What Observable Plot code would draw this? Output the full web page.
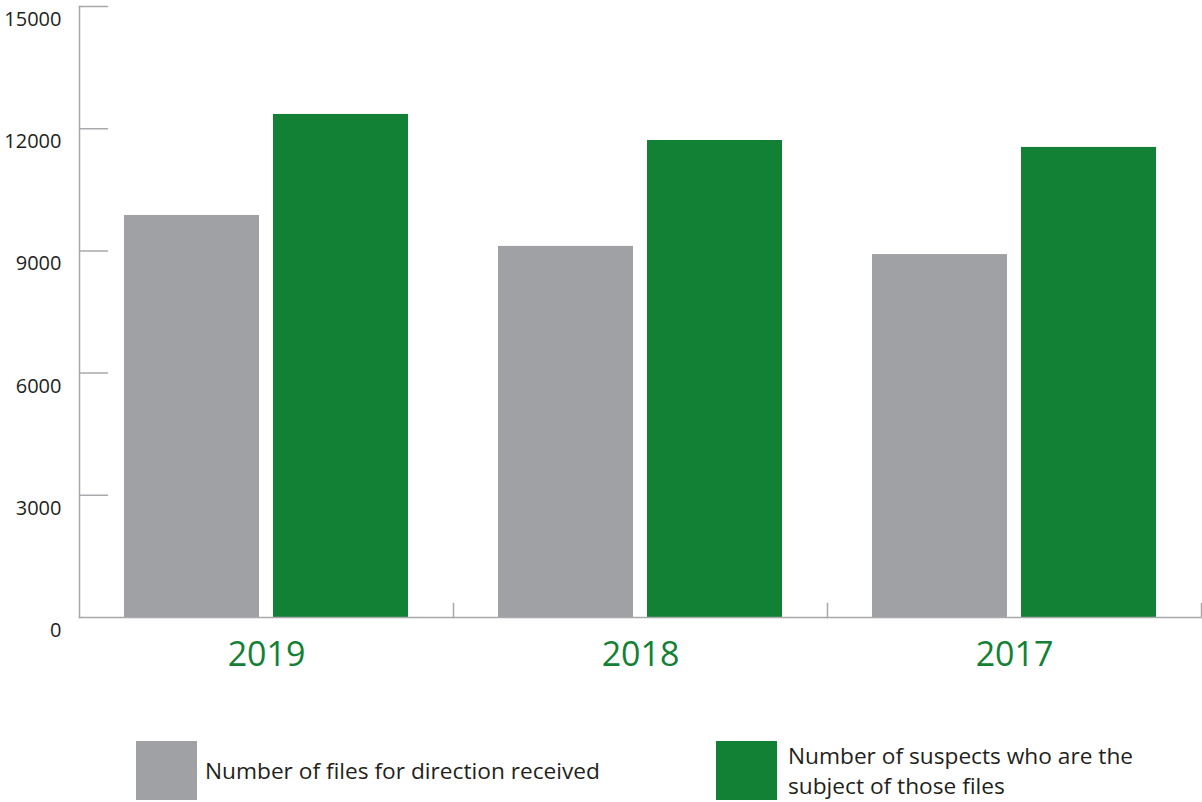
<!DOCTYPE html>
<html>
<head>
<meta charset="utf-8">
<script src="https://cdn.jsdelivr.net/npm/d3@7"></script>
<script src="https://cdn.jsdelivr.net/npm/@observablehq/plot@0.6"></script>
<style>
  html, body { margin: 0; padding: 0; background: #ffffff; }
  #wrap { width: 1202px; font-family: "Open Sans", sans-serif; color: #231f20; }
  #legend { position: relative; width: 1202px; height: 112px; }
  .sw { position: absolute; width: 61px; height: 59px; top: 51px; }
  .lt { position: absolute; font-size: 22.7px; line-height: 30px; color: #231f20; white-space: nowrap; }
</style>
</head>
<body>
<div id="wrap">
  <div id="chart"></div>
  <div id="legend">
    <div class="sw" style="left:136px; background:#a0a1a4;"></div>
    <div class="lt" style="left:205px; top:66px;">Number of files for direction received</div>
    <div class="sw" style="left:716px; background:#128135;"></div>
    <div class="lt" style="left:788px; top:51px;">Number of suspects who are the<br>subject of those files</div>
  </div>
</div>
<script>
const years = ["2019", "2018", "2017"];
const seriesKeys = ["Number of files for direction received", "Number of suspects who are the subject of those files"];
const filesReceived = [9870, 9110, 8910];
const suspects = [12350, 11710, 11540];
const yTicks = [0, 3000, 6000, 9000, 12000, 15000];

const gray = "#a0a1a4";
const green = "#128135";
const axisColor = "#a7a9ac";

const data = [];
years.forEach((y, i) => {
  data.push({year: y, series: seriesKeys[0], value: filesReceived[i]});
  data.push({year: y, series: seriesKeys[1], value: suspects[i]});
});

const tickShape = {
  draw(context, l) {
    context.moveTo(0, 0);
    context.lineTo(0, -l);
  }
};

const chart = Plot.plot({
  width: 1202,
  height: 690,
  marginLeft: 79,
  marginRight: 1,
  marginTop: 6,
  marginBottom: 73,
  style: {fontFamily: "Open Sans, sans-serif", background: "#ffffff"},
  fx: {domain: years, padding: 0, label: null, axis: null},
  x: {domain: seriesKeys, paddingInner: 0.094, paddingOuter: 0.295, axis: null},
  y: {domain: [0, 15000], axis: null},
  color: {domain: seriesKeys, range: [gray, green]},
  marks: [
    Plot.barY(data, {fx: "year", x: "series", y: "value", fill: "series"}),
    Plot.frame({anchor: "bottom", stroke: axisColor, strokeWidth: 1.5}),
    Plot.frame({anchor: "left", stroke: axisColor, strokeWidth: 1.5, facetAnchor: "left"}),
    Plot.vector(yTicks.filter(d => d > 0), {
      y: d => d, frameAnchor: "left", length: 28, rotate: 90, anchor: "start",
      shape: tickShape, stroke: axisColor, strokeWidth: 1.5, facetAnchor: "left"
    }),
    Plot.vector([0], {
      frameAnchor: "bottom-right", length: 14, rotate: 0, anchor: "start",
      shape: tickShape, stroke: axisColor, strokeWidth: 1.5
    }),
    Plot.axisY(yTicks, {
      tickSize: 0, tickPadding: 18, dy: 13, fontSize: 20, fill: "#231f20",
      tickFormat: d => String(d), label: null
    }),
    Plot.axisFx({
      anchor: "bottom", tickSize: 0, tickPadding: 24, fontSize: 34, fill: green, label: null
    })
  ]
});
document.getElementById("chart").appendChild(chart);
</script>
</body>
</html>
